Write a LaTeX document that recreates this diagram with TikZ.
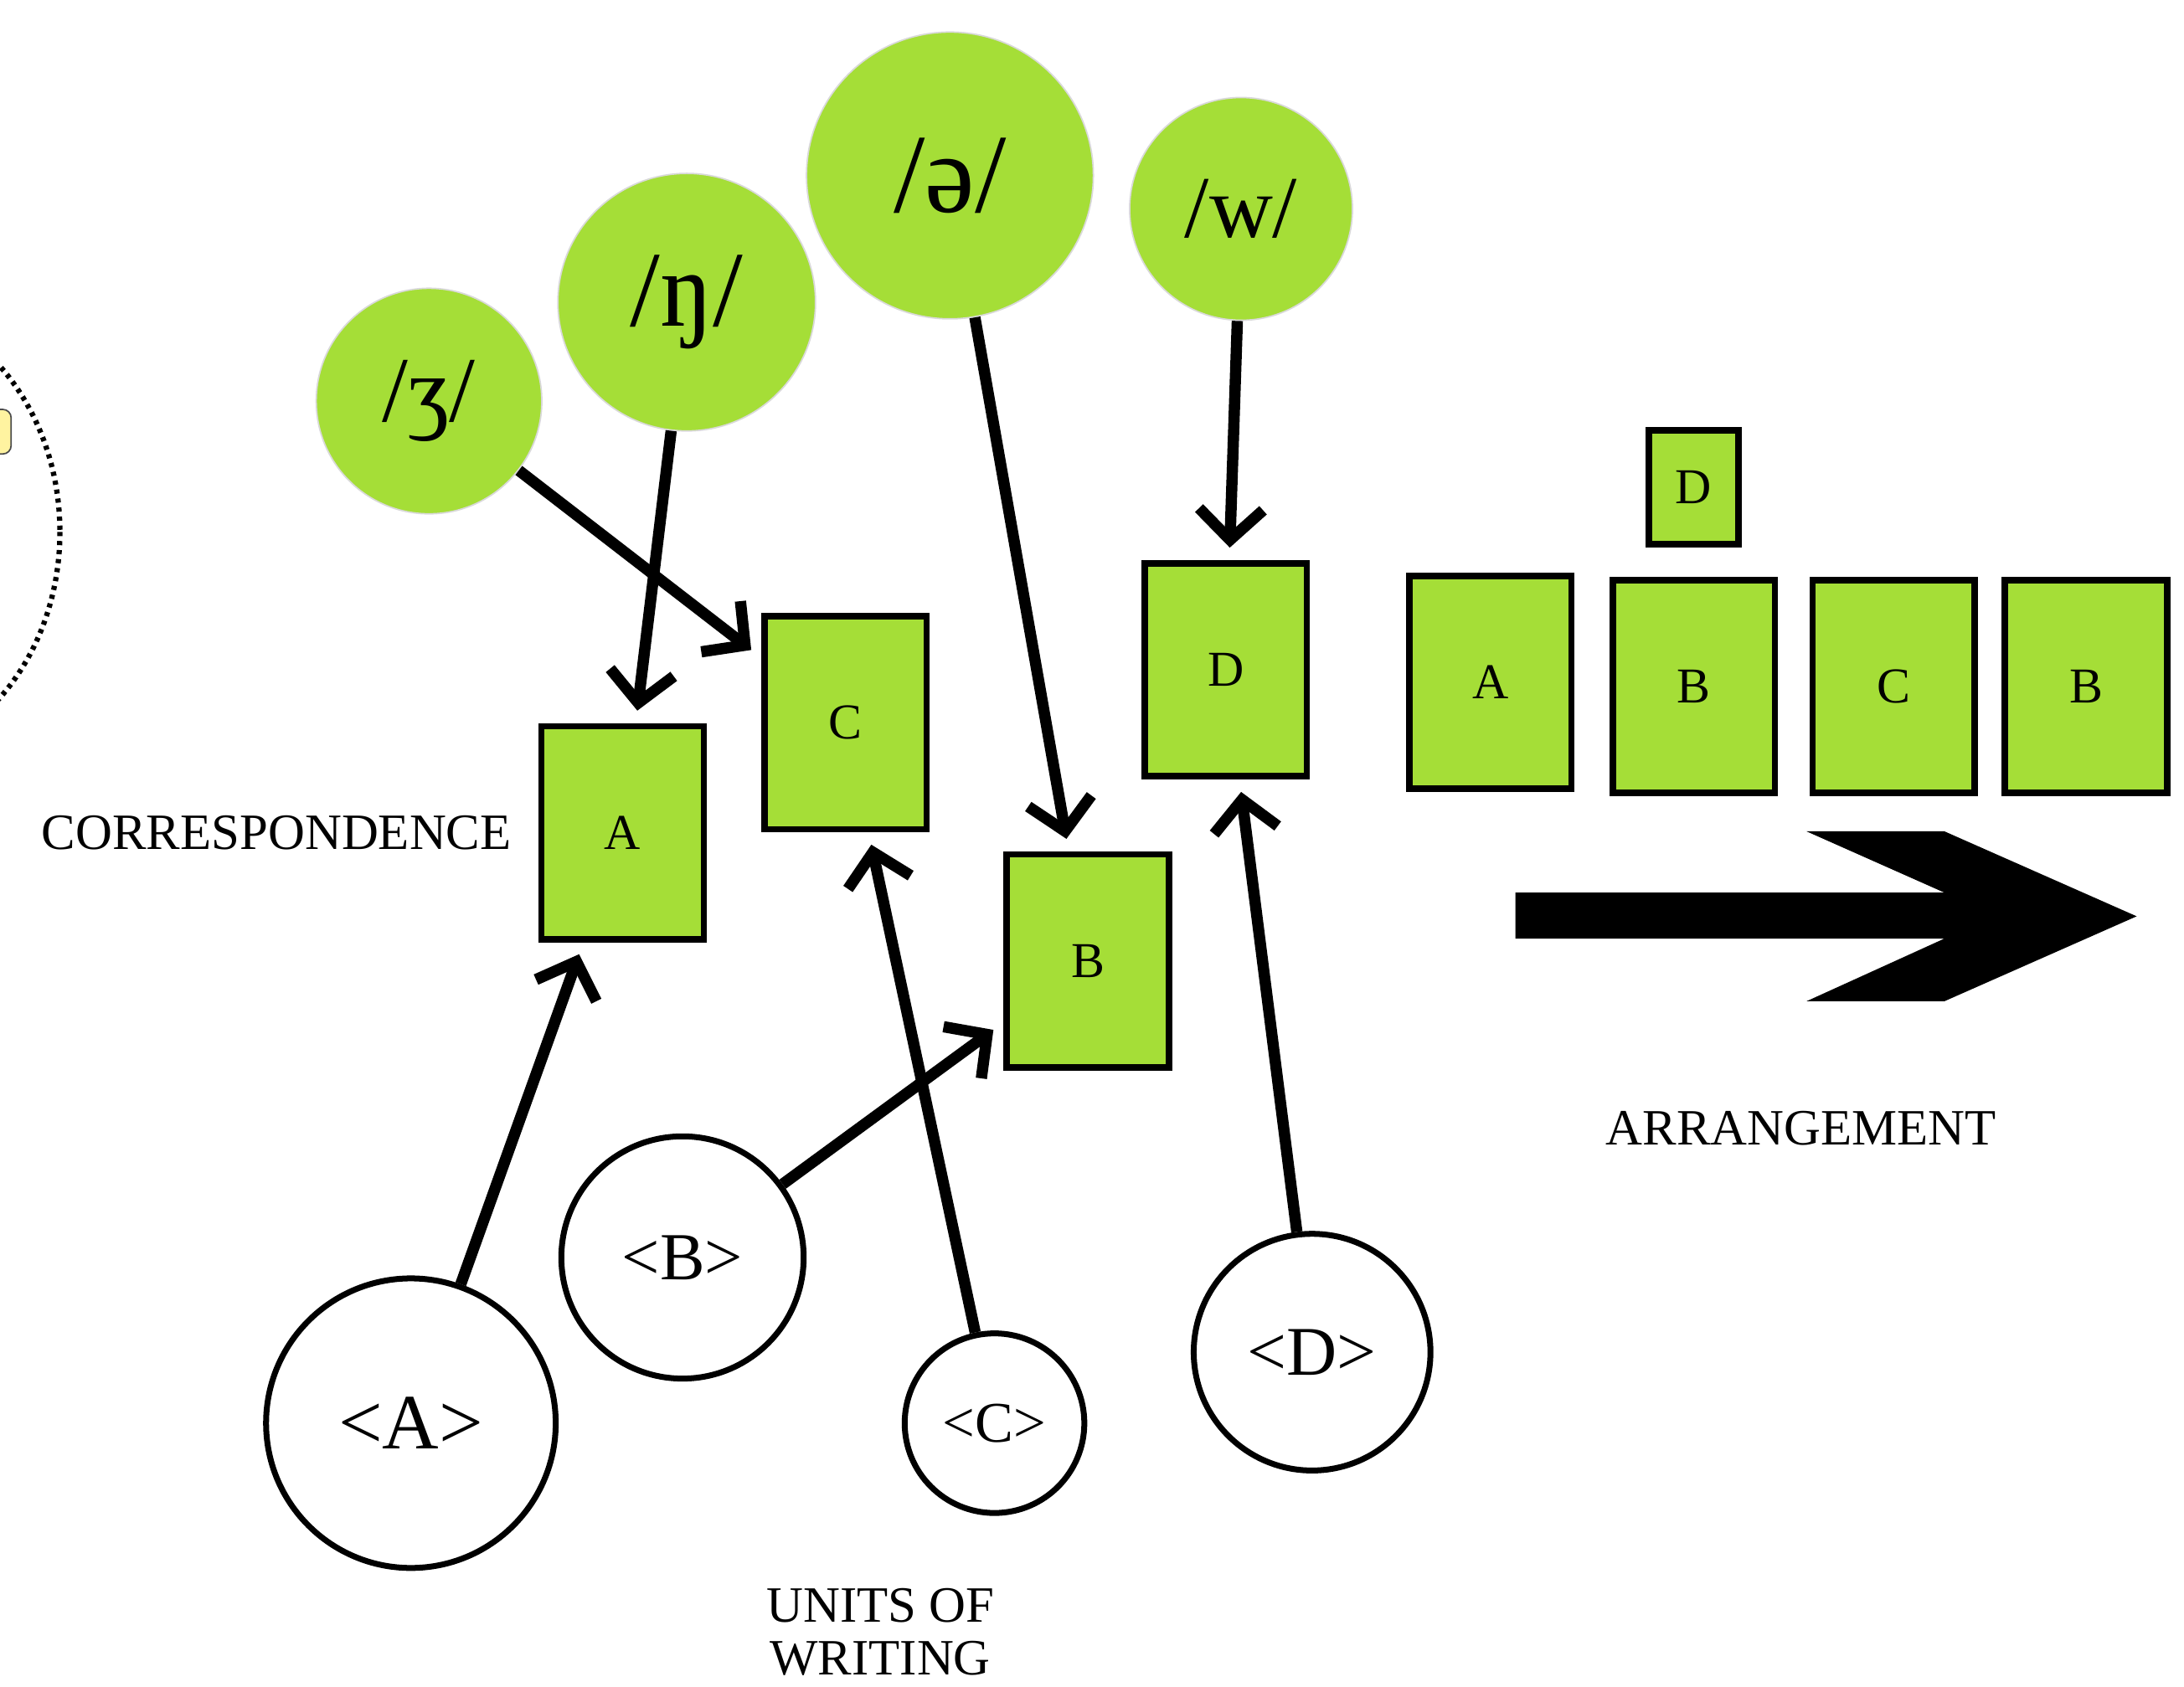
\documentclass[tikz,border=0pt]{standalone}
\usepackage{fontspec}
\setmainfont{Liberation Serif}
\usepackage{xcolor}
\usetikzlibrary{positioning, arrows.meta}
\definecolor{leafgreen}{RGB}{165,222,55}
\definecolor{notepaper}{RGB}{255,243,160}

\begin{document}
\begin{tikzpicture}[x=0.02cm, y=-0.02cm]
    % Block styles
    \tikzstyle{letter} = [rectangle, draw, line width=2.6pt, fill=leafgreen, minimum width=2.33cm, minimum height=3.06cm, inner sep=0pt, font=\fontsize{20.5}{24}\selectfont]
    \tikzstyle{letter_small} = [letter, minimum width=1.29cm, minimum height=1.64cm]
    \tikzstyle{sound} = [circle, draw=gray!30, line width=0.6pt, fill=leafgreen, inner sep=0pt]
    \tikzstyle{grapheme} = [circle, draw, line width=2.4pt, fill=white, inner sep=0pt]
    \tikzstyle{caption} = [inner sep=0pt, align=center, font=\fontsize{20.8}{21.5}\selectfont]
    \tikzstyle{link} = [line width=4.6pt, shorten >=0.18cm, -{Straight Barb[length=0.44cm, width=0.92cm]}]
    \useasboundingbox (0,0) rectangle (1568,1211);
    % Cut-off note at the left edge
    \begin{scope}
        \clip (0,0) rectangle (1568,1211);
        \draw[line width=0.075cm, dash pattern=on 0.06cm off 0.07cm] (-97,382) ellipse [x radius=140, y radius=165];
        \draw[fill=notepaper, draw=black!70, line width=0.6pt, rounded corners=0.12cm] (-60,294) rectangle (8,326);
    \end{scope}
    % Sounds
    \node[sound, minimum size=3.24cm] (sound_zh) at (308,288) {\fontsize{38}{40}\selectfont /ʒ/};
    \node[sound, minimum size=3.70cm] (sound_ng) at (493,217) {\fontsize{44}{46}\selectfont /ŋ/};
    \node[sound, minimum size=4.12cm] (sound_schwa) at (682,126) {\fontsize{46}{48}\selectfont /ə/};
    \node[sound, minimum size=3.20cm] (sound_w) at (891,150) {\fontsize{36}{38}\selectfont /w/};
    % Correspondence
    \node[letter] (box_a) at (447,598) {A};
    \node[letter] (box_c) at (607,519) {C};
    \node[letter] (box_b) at (781,690) {B};
    \node[letter] (box_d) at (880,481) {D};
    \node[caption, left=0.38cm of box_a] (correspondence) {CORRESPONDENCE};
    % Units of writing
    \node[grapheme, minimum size=4.16cm] (unit_a) at (295,1022) {\fontsize{32}{34}\selectfont <A>};
    \node[grapheme, minimum size=3.48cm] (unit_b) at (490,903) {\fontsize{27.5}{30}\selectfont <B>};
    \node[grapheme, minimum size=2.58cm] (unit_c) at (714,1022) {\fontsize{23.5}{26}\selectfont <C>};
    \node[grapheme, minimum size=3.40cm] (unit_d) at (942,971) {\fontsize{28.5}{30}\selectfont <D>};
    \node[caption] (units) at (632,1172) {UNITS OF\\WRITING};
    % Arrangement
    \node[letter] (row_a) at (1070,490) {A};
    \node[letter, right=0.5cm of row_a, yshift=-0.06cm] (row_b) {B};
    \node[letter, right=0.45cm of row_b] (row_c) {C};
    \node[letter, right=0.34cm of row_c] (row_b2) {B};
    \node[letter_small, above=0.42cm of row_b] (row_d) {D};
    \fill (1088,641) -- (1396,641) -- (1297,597) -- (1396,597) -- (1534,658) -- (1396,719) -- (1297,719) -- (1396,674) -- (1088,674) -- cycle;
    \node[caption] (arrangement) at (1293,810) {ARRANGEMENT};
    % Connections
    \draw[link] (sound_zh) -- (box_c);
    \draw[link] (sound_ng) -- (box_a);
    \draw[link] (sound_schwa) -- (box_b);
    \draw[link] (sound_w) -- (box_d);
    \draw[link] (unit_a) -- (box_a);
    \draw[link] (unit_b) -- (box_b);
    \draw[link] (unit_c) -- (box_c);
    \draw[link] (unit_d) -- (box_d);
\end{tikzpicture}
\end{document}
